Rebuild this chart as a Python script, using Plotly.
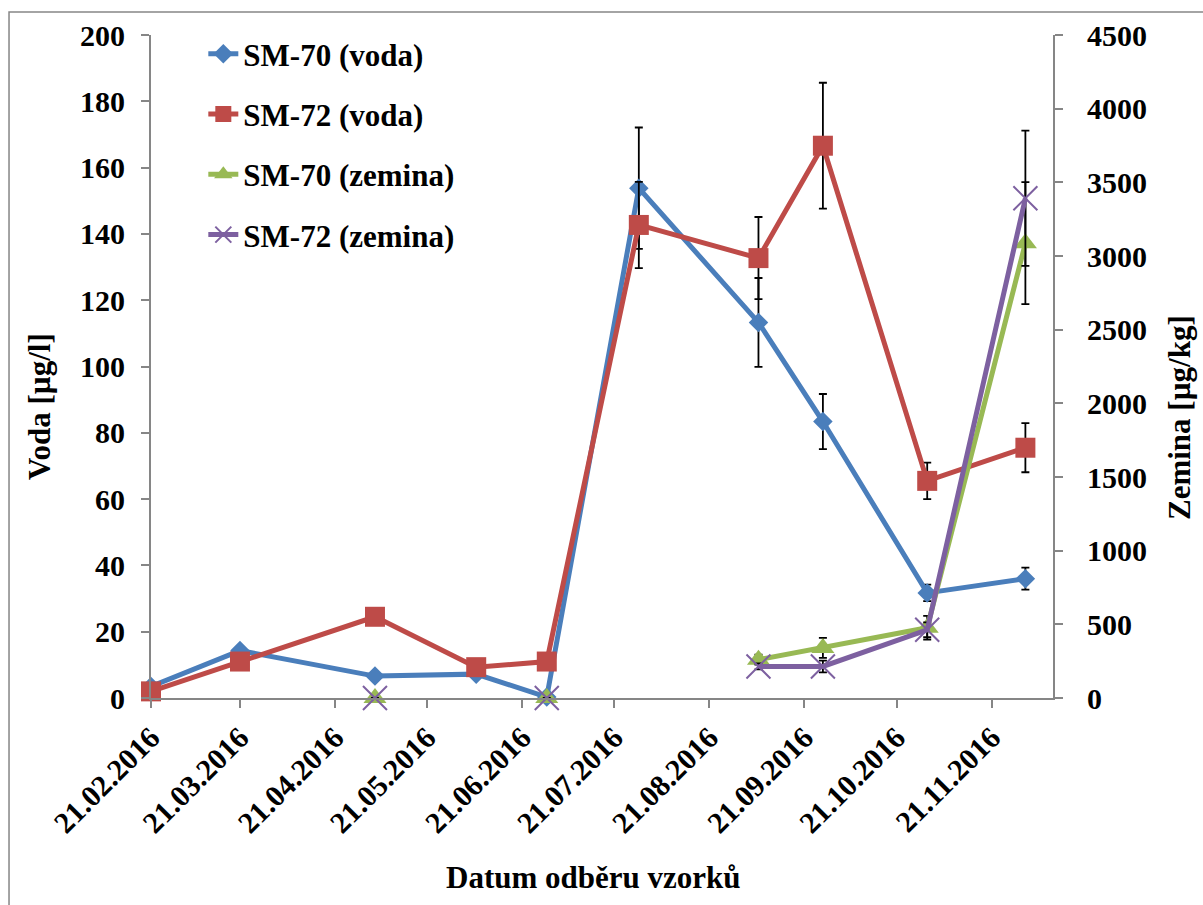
import plotly.graph_objects as go

# Sampling dates and measured concentrations
dates = ["2016-02-21", "2016-03-21", "2016-05-04", "2016-06-06", "2016-06-29",
         "2016-07-29", "2016-09-06", "2016-09-27", "2016-10-31", "2016-12-02"]

sm70_voda = [3.5, 14.3, 6.6, 7.2, 0.3, 153.8, 113.3, 83.4, 31.7, 36.0]
sm70_voda_err = [None, None, None, None, None, 18.3, 13.4, 8.3, 2.5, 3.3]

sm72_voda = [2.0, 11.0, 24.5, 9.3, 11.0, 142.7, 132.7, 166.6, 65.5, 75.5]
sm72_voda_err = [None, None, None, None, None, 13.0, 12.4, 19.0, 5.5, 7.4]

sm70_zemina = [None, None, 0, None, 0, None, 260, 340, 477, 3087]
sm70_zemina_err = [None, None, None, None, None, None, 34, 68, 80, 414]

sm72_zemina = [None, None, 0, None, 0, None, 214, 214, 463, 3392]
sm72_zemina_err = [None, None, None, None, None, None, 20, 40, 50, 459]

tick_dates = ["2016-02-21", "2016-03-21", "2016-04-21", "2016-05-21", "2016-06-21",
              "2016-07-21", "2016-08-21", "2016-09-21", "2016-10-21", "2016-11-21"]
tick_labels = ["21.02.2016", "21.03.2016", "21.04.2016", "21.05.2016", "21.06.2016",
               "21.07.2016", "21.08.2016", "21.09.2016", "21.10.2016", "21.11.2016"]

FONT = "Times New Roman, Liberation Serif, DejaVu Serif, serif"
AXIS_GRAY = "#868686"
BLUE, RED, GREEN, PURPLE = "#4A7EBB", "#BE4B48", "#98B954", "#7D60A0"


def err(values):
    return dict(type="data", array=values, symmetric=True, visible=True,
                color="black", thickness=1.8, width=4)


fig = go.Figure()

fig.add_trace(go.Scatter(
    x=dates, y=sm70_voda, name="SM-70 (voda)", legendgroup="a",
    mode="lines+markers", line=dict(color=BLUE, width=5), cliponaxis=False,
    marker=dict(symbol="diamond", size=15, color=BLUE),
    error_y=err(sm70_voda_err)))

fig.add_trace(go.Scatter(
    x=dates, y=sm72_voda, name="SM-72 (voda)", legendgroup="b",
    mode="lines+markers", line=dict(color=RED, width=5), cliponaxis=False,
    marker=dict(symbol="square", size=20, color=RED),
    error_y=err(sm72_voda_err)))

fig.add_trace(go.Scatter(
    x=dates, y=sm70_zemina, name="SM-70 (zemina)", legendgroup="c", yaxis="y2",
    mode="lines+markers", line=dict(color=GREEN, width=5), connectgaps=False,
    cliponaxis=False,
    marker=dict(symbol="triangle-up", size=20, color=GREEN),
    error_y=err(sm70_zemina_err)))

fig.add_trace(go.Scatter(
    x=dates, y=sm72_zemina, name="SM-72 (zemina)", legendgroup="d", yaxis="y2",
    mode="lines+markers", line=dict(color=PURPLE, width=5), connectgaps=False,
    cliponaxis=False,
    marker=dict(symbol="x-thin", size=24, color=PURPLE,
                line=dict(color=PURPLE, width=2)),
    error_y=err(sm72_zemina_err)))

axis_common = dict(
    showline=True, linecolor=AXIS_GRAY, linewidth=2,
    ticks="outside", ticklen=8, tickwidth=2, tickcolor=AXIS_GRAY,
    showgrid=False, zeroline=False,
    tickfont=dict(family=FONT, size=30, color="black", weight="bold"),
)

fig.update_layout(
    width=1203, height=905,
    margin=dict(l=151, r=150, t=35, b=207),
    paper_bgcolor="white", plot_bgcolor="white",
    font=dict(family=FONT, color="black"),
    xaxis=dict(
        type="date", range=["2016-02-21", "2016-12-11"],
        tickvals=tick_dates, ticktext=tick_labels, tickangle=-45,
        **axis_common),
    yaxis=dict(range=[0, 200], dtick=20, ticklabelstandoff=10, **axis_common),
    yaxis2=dict(range=[0, 4500], dtick=500, overlaying="y", side="right",
                ticklabelstandoff=18, **axis_common),
    legend=dict(
        x=0.058, y=1.012, xanchor="left", yanchor="top",
        bgcolor="rgba(0,0,0,0)", tracegroupgap=17,
        font=dict(family=FONT, size=31, color="black", weight="bold"),
    ),
    showlegend=True,
)

title_font = dict(family=FONT, size=31, color="black", weight="bold")
fig.add_annotation(text="Voda [µg/l]", xref="paper", yref="paper",
                   x=-0.123, y=0.439, xanchor="center", yanchor="middle",
                   textangle=-90, showarrow=False, font=title_font)
fig.add_annotation(text="Zemina [µg/kg]", xref="paper", yref="paper",
                   x=1.141, y=0.4226, xanchor="center", yanchor="middle",
                   textangle=-90, showarrow=False, font=title_font)
fig.add_annotation(text="Datum odběru vzorků", xref="paper", yref="paper",
                   x=0.491, y=-0.27, xanchor="center", yanchor="middle",
                   showarrow=False, font=title_font)

# Chart frame
fig.add_shape(type="rect", xref="paper", yref="paper",
              x0=-0.1574, y0=-0.6, x1=1.4, y1=1.0347,
              line=dict(color=AXIS_GRAY, width=1.5), layer="below")

fig.write_html("out.html")
